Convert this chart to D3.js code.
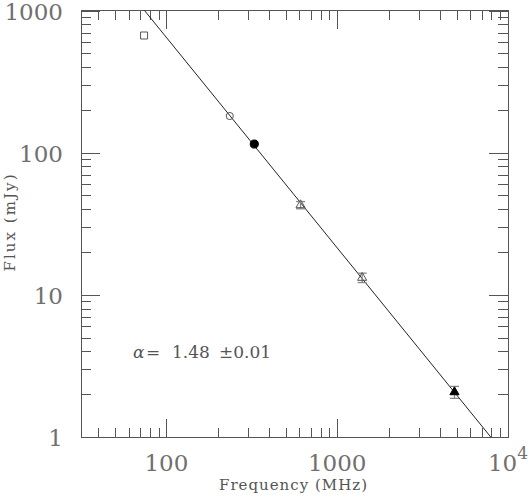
<!DOCTYPE html>
<html>
<head>
<meta charset="utf-8">
<script src="https://cdn.jsdelivr.net/npm/d3@7"></script>
<style>
body { margin: 0; background: #fff; }
svg { display: block; }
.axis path { display: none; }
.axis line { stroke: #555; shape-rendering: crispEdges; }
.tick-label { font-family: "DejaVu Serif"; font-size: 23px; fill: #707070; }
.axis-title { font-family: "DejaVu Serif"; font-size: 15px; fill: #555; }
</style>
</head>
<body>
<svg id="chart" width="530" height="500"></svg>
<script>
// Measured points (MHz, mJy)
var freqs = [74, 235, 327, 610, 1400, 4860];
var fluxes = [667, 181, 115, 42.8, 13.2, 2.07];
var fluxErrs = [0, 0, 0, 2.5, 1.0, 0.2];
var markers = ['square-open', 'circle-open', 'circle-filled', 'triangle-open', 'triangle-open', 'triangle-filled'];

// Power-law fit S = S1GHz * (f/1000)^-alpha
var alpha = 1.48;
var alphaErr = 0.01;
var flux1GHz = 21.4;

// Axis ticks
var xDomain = [31.62, 10000];
var yDomain = [1, 1000];
var xMajor = [100, 1000, 10000];
var xMinor = [40, 50, 60, 70, 80, 90, 200, 300, 400, 500, 600, 700, 800, 900,
              2000, 3000, 4000, 5000, 6000, 7000, 8000, 9000];
var yMajor = [1, 10, 100, 1000];
var yMinor = [2, 3, 4, 5, 6, 7, 8, 9, 20, 30, 40, 50, 60, 70, 80, 90,
              200, 300, 400, 500, 600, 700, 800, 900];
var xLabels = ['100', '1000', '10|4'];
var yLabels = ['1', '10', '100', '1000'];

var svg = d3.select('#chart');
var margin = {t: 10.5, r: 22, b: 63, l: 81};
var width = +svg.attr('width') - margin.l - margin.r;
var height = +svg.attr('height') - margin.t - margin.b;

var g = svg.append('g')
    .attr('transform', 'translate(' + [margin.l, margin.t] + ')');

var x = d3.scaleLog().domain(xDomain).range([0, width]);
var y = d3.scaleLog().domain(yDomain).range([height, 0]);

// ticks on all four sides, pointing inward
function tickAxis(axisFn, scale, values, len, tx, ty) {
    g.append('g').attr('class', 'axis')
        .attr('transform', 'translate(' + [tx, ty] + ')')
        .call(axisFn(scale).tickValues(values).tickSizeInner(-len).tickSizeOuter(0).tickFormat(''));
}
tickAxis(d3.axisBottom, x, xMinor, 9, 0, height);
tickAxis(d3.axisBottom, x, xMajor, 18, 0, height);
tickAxis(d3.axisTop, x, xMinor, 9, 0, 0);
tickAxis(d3.axisTop, x, xMajor, 18, 0, 0);
tickAxis(d3.axisLeft, y, yMinor, 10, 0, 0);
tickAxis(d3.axisLeft, y, yMajor, 19, 0, 0);
tickAxis(d3.axisRight, y, yMinor, 10, width, 0);
tickAxis(d3.axisRight, y, yMajor, 19, width, 0);

g.append('rect')
    .attr('width', width).attr('height', height)
    .attr('fill', 'none').attr('stroke', '#555')
    .style('shape-rendering', 'crispEdges');

// tick labels
xMajor.forEach(function(v, i) {
    var parts = xLabels[i].split('|');
    var t = g.append('text').attr('class', 'tick-label')
        .attr('x', x(v)).attr('y', height + 34)
        .attr('text-anchor', 'middle')
        .text(parts[0]);
    if (parts[1]) {
        t.append('tspan').attr('dy', -12).style('font-size', '17px').text(parts[1]);
    }
});
yMajor.forEach(function(v, i) {
    g.append('text').attr('class', 'tick-label')
        .attr('x', -18).attr('y', y(v) + 9)
        .attr('text-anchor', 'end')
        .text(yLabels[i]);
});

// axis titles
svg.append('text').attr('class', 'axis-title')
    .attr('x', 293).attr('y', 490)
    .attr('text-anchor', 'middle')
    .attr('textLength', 148).attr('lengthAdjust', 'spacing')
    .text('Frequency (MHz)');
svg.append('text').attr('class', 'axis-title')
    .attr('transform', 'translate(' + [15, 223] + ')rotate(-90)')
    .attr('text-anchor', 'middle')
    .attr('textLength', 97).attr('lengthAdjust', 'spacing')
    .text('Flux (mJy)');

// fitted line, clipped to the frame
svg.append('defs').append('clipPath').attr('id', 'plot-clip')
    .append('rect').attr('width', width).attr('height', height);
var fitLine = d3.line()
    .x(function(f) { return x(f); })
    .y(function(f) { return y(flux1GHz * Math.pow(f / 1000, -alpha)); });
g.append('path')
    .datum(xDomain)
    .attr('clip-path', 'url(#plot-clip)')
    .attr('d', fitLine)
    .attr('fill', 'none').attr('stroke', '#222').attr('stroke-width', 1);

// error bars
var capW = 4.5;
freqs.forEach(function(f, i) {
    if (!fluxErrs[i]) return;
    var cx = x(f), y0 = y(fluxes[i] - fluxErrs[i]), y1 = y(fluxes[i] + fluxErrs[i]);
    var eb = g.append('g').attr('stroke', '#888').attr('stroke-width', 1.3);
    eb.append('line').attr('x1', cx).attr('x2', cx).attr('y1', y0).attr('y2', y1);
    eb.append('line').attr('x1', cx - capW).attr('x2', cx + capW).attr('y1', y0).attr('y2', y0);
    eb.append('line').attr('x1', cx - capW).attr('x2', cx + capW).attr('y1', y1).attr('y2', y1);
});

// data symbols
var symbolType = {square: d3.symbolSquare, circle: d3.symbolCircle, triangle: d3.symbolTriangle};
var symbolSize = {square: 49, circle: 40, triangle: 36};
g.selectAll('.pt')
    .data(freqs).enter()
    .append('path')
    .attr('class', 'pt')
    .attr('transform', function(f, i) { return 'translate(' + [x(f), y(fluxes[i])] + ')'; })
    .attr('d', function(f, i) {
        var m = markers[i].split('-');
        var s = symbolSize[m[0]] * (m[1] === 'filled' && m[0] === 'circle' ? 1.3 : 1);
        return d3.symbol().type(symbolType[m[0]]).size(s)();
    })
    .attr('fill', function(f, i) { return markers[i].endsWith('filled') ? '#000' : 'none'; })
    .attr('stroke', function(f, i) { return markers[i].endsWith('filled') ? '#000' : '#555'; })
    .attr('stroke-width', 1);

// spectral index annotation
var ann = svg.append('text')
    .attr('y', 358)
    .style('font-family', 'DejaVu Serif')
    .style('font-size', '17px')
    .style('fill', '#555');
ann.append('tspan').attr('x', 133).style('font-style', 'italic').text('\u03b1');
ann.append('tspan').attr('x', 146).text('=');
ann.append('tspan').attr('x', 172).text(alpha.toFixed(2));
ann.append('tspan').attr('x', 219).text('\u00b1' + alphaErr.toFixed(2));
</script>
</body>
</html>
